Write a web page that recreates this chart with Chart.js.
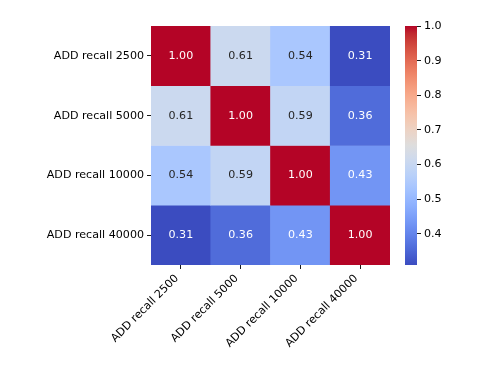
<!DOCTYPE html>
<html>
<head>
<meta charset="utf-8">
<script src="https://cdn.jsdelivr.net/npm/chart.js@4"></script>
<style>
  body { margin: 0; background: #fff; }
  #wrap { position: relative; width: 480px; height: 375px; }
  #wrap canvas { position: absolute; left: 0; top: 0; }
</style>
</head>
<body>
<div id="wrap">
  <canvas id="heat" width="480" height="375"></canvas>
  <canvas id="cbar" width="480" height="375"></canvas>
</div>
<script>
const labels = ["ADD recall 2500", "ADD recall 5000", "ADD recall 10000", "ADD recall 40000"];
// one row per label, top to bottom
const row2500 = [1.00, 0.61, 0.54, 0.31];
const row5000 = [0.61, 1.00, 0.59, 0.36];
const row10000 = [0.54, 0.59, 1.00, 0.43];
const row40000 = [0.31, 0.36, 0.43, 1.00];
const rows = [row2500, row5000, row10000, row40000];
const cbarTicks = [0.4, 0.5, 0.6, 0.7, 0.8, 0.9, 1.0];

const vmin = Math.min(...rows.flat());
const vmax = Math.max(...rows.flat());

// coolwarm (Moreland) control points, 33 steps
const cw = [
  [59,76,192],[68,90,204],[77,104,215],[87,117,225],[98,130,234],[108,142,241],
  [119,154,247],[130,165,251],[141,176,254],[152,185,255],[163,194,255],[174,201,253],
  [184,208,249],[194,213,244],[204,217,238],[213,219,230],[221,221,221],[229,216,209],
  [236,211,197],[241,204,184],[245,196,172],[247,187,160],[247,177,148],[247,166,135],
  [244,154,123],[241,141,111],[236,127,99],[229,112,88],[222,96,77],[213,80,66],
  [203,62,56],[192,40,47],[180,4,38]
];
function coolwarm(t) {
  t = Math.max(0, Math.min(1, t));
  const p = t * (cw.length - 1);
  const i = Math.min(Math.floor(p), cw.length - 2);
  const f = p - i;
  return cw[i].map((c, k) => Math.round(c + (cw[i + 1][k] - c) * f));
}
const rgb = c => `rgb(${c[0]},${c[1]},${c[2]})`;
const colorOf = v => coolwarm((v - vmin) / (vmax - vmin));
function lum(c) {
  const l = c.map(x => {
    x /= 255;
    return x <= 0.03928 ? x / 12.92 : Math.pow((x + 0.055) / 1.055, 2.4);
  });
  return 0.2126 * l[0] + 0.7152 * l[1] + 0.0722 * l[2];
}

Chart.defaults.font.family = "'DejaVu Sans', sans-serif";
Chart.defaults.font.size = 11.1;
Chart.defaults.color = "#000";

const annotate = {
  id: "annotate",
  afterDatasetsDraw(chart) {
    const ctx = chart.ctx;
    ctx.save();
    ctx.font = "11.1px 'DejaVu Sans', sans-serif";
    ctx.textAlign = "center";
    ctx.textBaseline = "middle";
    chart.data.datasets.forEach((ds, r) => {
      chart.getDatasetMeta(r).data.forEach((bar, c) => {
        const v = rows[r][c];
        ctx.fillStyle = lum(colorOf(v)) > 0.408 ? "#262626" : "#fff";
        ctx.fillText(v.toFixed(2), bar.x, (bar.y + bar.base) / 2);
      });
    });
    ctx.restore();
  }
};

new Chart(document.getElementById("heat"), {
  type: "bar",
  data: {
    labels: labels,
    datasets: rows.map((row, r) => ({
      label: labels[r],
      data: row.map(() => 1),
      backgroundColor: row.map(v => rgb(colorOf(v))),
      borderWidth: 0,
      categoryPercentage: 1,
      barPercentage: 1
    }))
  },
  options: {
    responsive: false,
    animation: false,
    layout: { padding: { left: 0, top: 26, right: 90, bottom: 0 } },
    plugins: { legend: { display: false }, tooltip: { enabled: false } },
    scales: {
      x: {
        stacked: true,
        border: { display: false },
        grid: { offset: false, drawOnChartArea: false, tickLength: 4, color: "#000", lineWidth: 0.9 },
        ticks: { minRotation: 45, maxRotation: 45, padding: 3, labelOffset: -4, autoSkip: false },
        afterFit: s => { s.height = 110; }
      },
      y: {
        stacked: true,
        reverse: true,
        min: 0,
        max: labels.length,
        border: { display: false },
        grid: { drawOnChartArea: false, tickLength: 4, color: "#000", lineWidth: 0.9 },
        ticks: { padding: 3, callback: (v, i) => labels[i] },
        afterBuildTicks: s => { s.ticks = labels.map((l, i) => ({ value: i + 0.5 })); },
        afterFit: s => { s.width = 151; }
      }
    }
  },
  plugins: [annotate]
});

new Chart(document.getElementById("cbar"), {
  type: "bar",
  data: {
    labels: [""],
    datasets: [{
      data: [[vmin, vmax]],
      borderWidth: 0,
      categoryPercentage: 1,
      barPercentage: 1,
      backgroundColor: ctx => {
        const ca = ctx.chart.chartArea;
        if (!ca) return "#ddd";
        const g = ctx.chart.ctx.createLinearGradient(0, ca.bottom, 0, ca.top);
        for (let k = 0; k <= 32; k++) g.addColorStop(k / 32, rgb(coolwarm(k / 32)));
        return g;
      }
    }]
  },
  options: {
    responsive: false,
    animation: false,
    layout: { padding: { left: 405, top: 26, right: 0, bottom: 110 } },
    plugins: { legend: { display: false }, tooltip: { enabled: false } },
    scales: {
      x: { display: false },
      y: {
        position: "right",
        min: vmin,
        max: vmax,
        border: { display: false },
        grid: { drawOnChartArea: false, tickLength: 4, color: "#000", lineWidth: 0.9 },
        ticks: { padding: 3, callback: v => v.toFixed(1) },
        afterBuildTicks: s => { s.ticks = cbarTicks.map(v => ({ value: v })); },
        afterFit: s => { s.width = 63; }
      }
    }
  }
});
</script>
</body>
</html>
